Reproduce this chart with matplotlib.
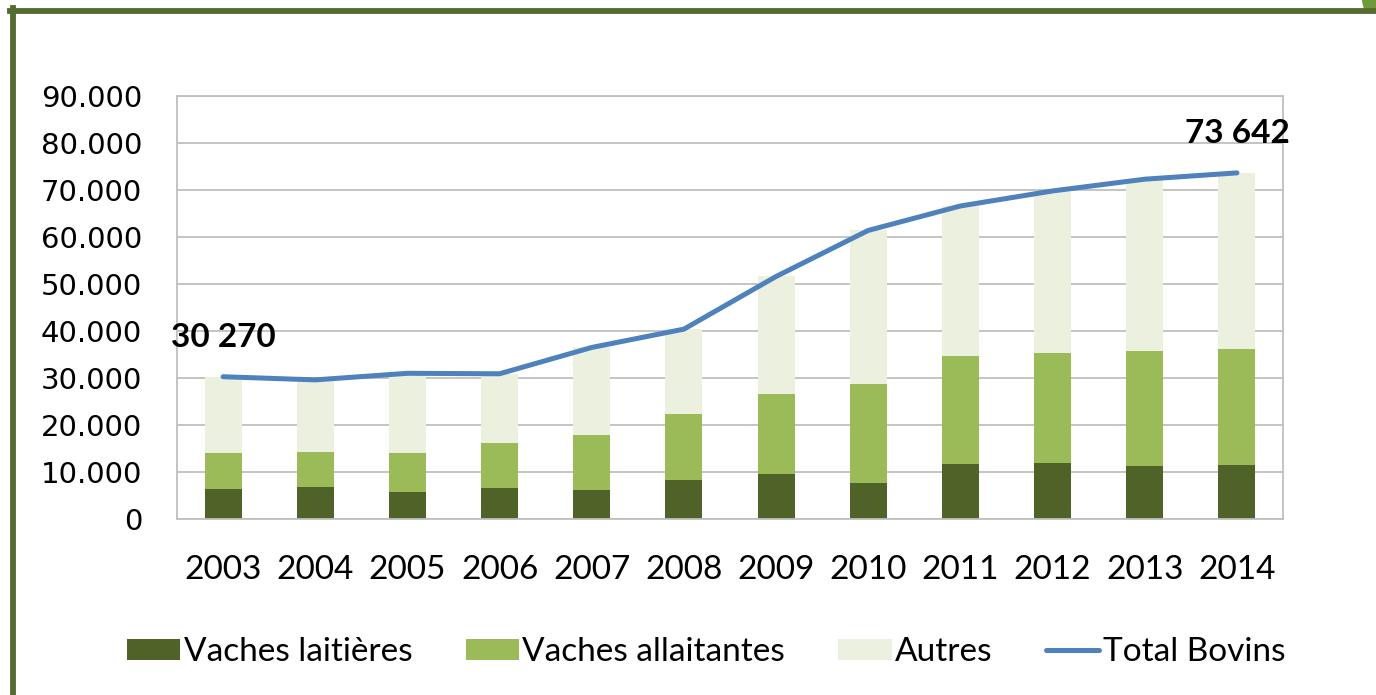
import matplotlib
matplotlib.use('Agg')
import matplotlib.pyplot as plt
import numpy as np
from matplotlib.ticker import FuncFormatter
from matplotlib.lines import Line2D
from matplotlib.patches import Polygon

years = ['2003', '2004', '2005', '2006', '2007', '2008',
         '2009', '2010', '2011', '2012', '2013', '2014']
laitieres = [6400, 6900, 5800, 6700, 6100, 8200, 9600, 7700, 11800, 11900, 11300, 11500]
allaitantes = [7600, 7400, 8200, 9400, 11700, 14200, 17100, 21000, 22900, 23400, 24500, 24600]
autres = [16270, 15300, 17000, 14800, 18700, 18000, 24900, 32700, 31900, 34500, 36500, 37542]
total = [30270, 29600, 31000, 30900, 36500, 40400, 51600, 61400, 66600, 69800, 72300, 73642]

c_lait = '#4F6228'
c_allait = '#9BBB59'
c_autres = '#EBF1DE'
c_total = '#4F81BD'
grid_c = '#BFBFBF'

fig = plt.figure(figsize=(13.76, 6.95), dpi=100)
ax = fig.add_axes([177/1376, 1 - 519/695, 1106/1376, 423/695])

x = np.arange(len(years))
w = 0.4
b1 = ax.bar(x, laitieres, w, color=c_lait, label='Vaches laitières', zorder=2)
b2 = ax.bar(x, allaitantes, w, bottom=laitieres, color=c_allait,
            label='Vaches allaitantes', zorder=2)
bottom3 = np.array(laitieres) + np.array(allaitantes)
b3 = ax.bar(x, autres, w, bottom=bottom3, color=c_autres, label='Autres', zorder=2)
ln, = ax.plot(x, total, color=c_total, lw=3.6, solid_capstyle='round',
              label='Total Bovins', zorder=3)

ax.set_xlim(-0.5, len(years) - 0.5)
ax.set_ylim(0, 90000)
ax.set_yticks(np.arange(0, 90001, 10000))
ax.yaxis.set_major_formatter(FuncFormatter(
    lambda v, p: '0' if v == 0 else '{:,.0f}'.format(v).replace(',', '.')))
ax.set_xticks(x)
ax.set_xticklabels(years, fontfamily='Lato', fontsize=24)
for lab in ax.get_yticklabels():
    lab.set_fontfamily('DejaVu Sans')
    lab.set_fontsize(21)
ax.tick_params(axis='both', length=0)
ax.tick_params(axis='x', pad=26)
ax.tick_params(axis='y', pad=25)
ax.grid(axis='y', color=grid_c, lw=1.3, zorder=0)
ax.set_axisbelow(True)
for s in ax.spines.values():
    s.set_color(grid_c)
    s.set_linewidth(1.3)

# labels for first and last totals
ax.text(0, 38700, '30 270', ha='center', va='center', fontfamily='Lato',
        fontweight='bold', fontsize=24)
ax.text(11, 82100, '73 642', ha='center', va='center', fontfamily='Lato',
        fontweight='bold', fontsize=24)

fig.legend(handles=[b1, b2, b3, ln], loc='center', ncol=4,
           bbox_to_anchor=(706/1376, 1 - 652/695), frameon=False,
           prop={'family': 'Lato', 'size': 24}, handlelength=1.6,
           handleheight=0.6, handletextpad=0.1, columnspacing=1.6)

# green frame on left and top
bc = '#556B2F'
fig.add_artist(Line2D([12.5/1376, 12.5/1376], [0, 1 - 8/695], color=bc, lw=4.2,
                      transform=fig.transFigure))
fig.add_artist(Line2D([10/1376, 1], [1 - 10.5/695, 1 - 10.5/695], color=bc, lw=4.2,
                      transform=fig.transFigure))
fig.add_artist(Polygon([[1362/1376, 1], [1376/1376, 1], [1376/1376, 1 - 8/695],
                        [1364/1376, 1 - 8/695]], closed=True, color='#6E9A3A',
                       transform=fig.transFigure))

fig.savefig('out.png', dpi=100)
